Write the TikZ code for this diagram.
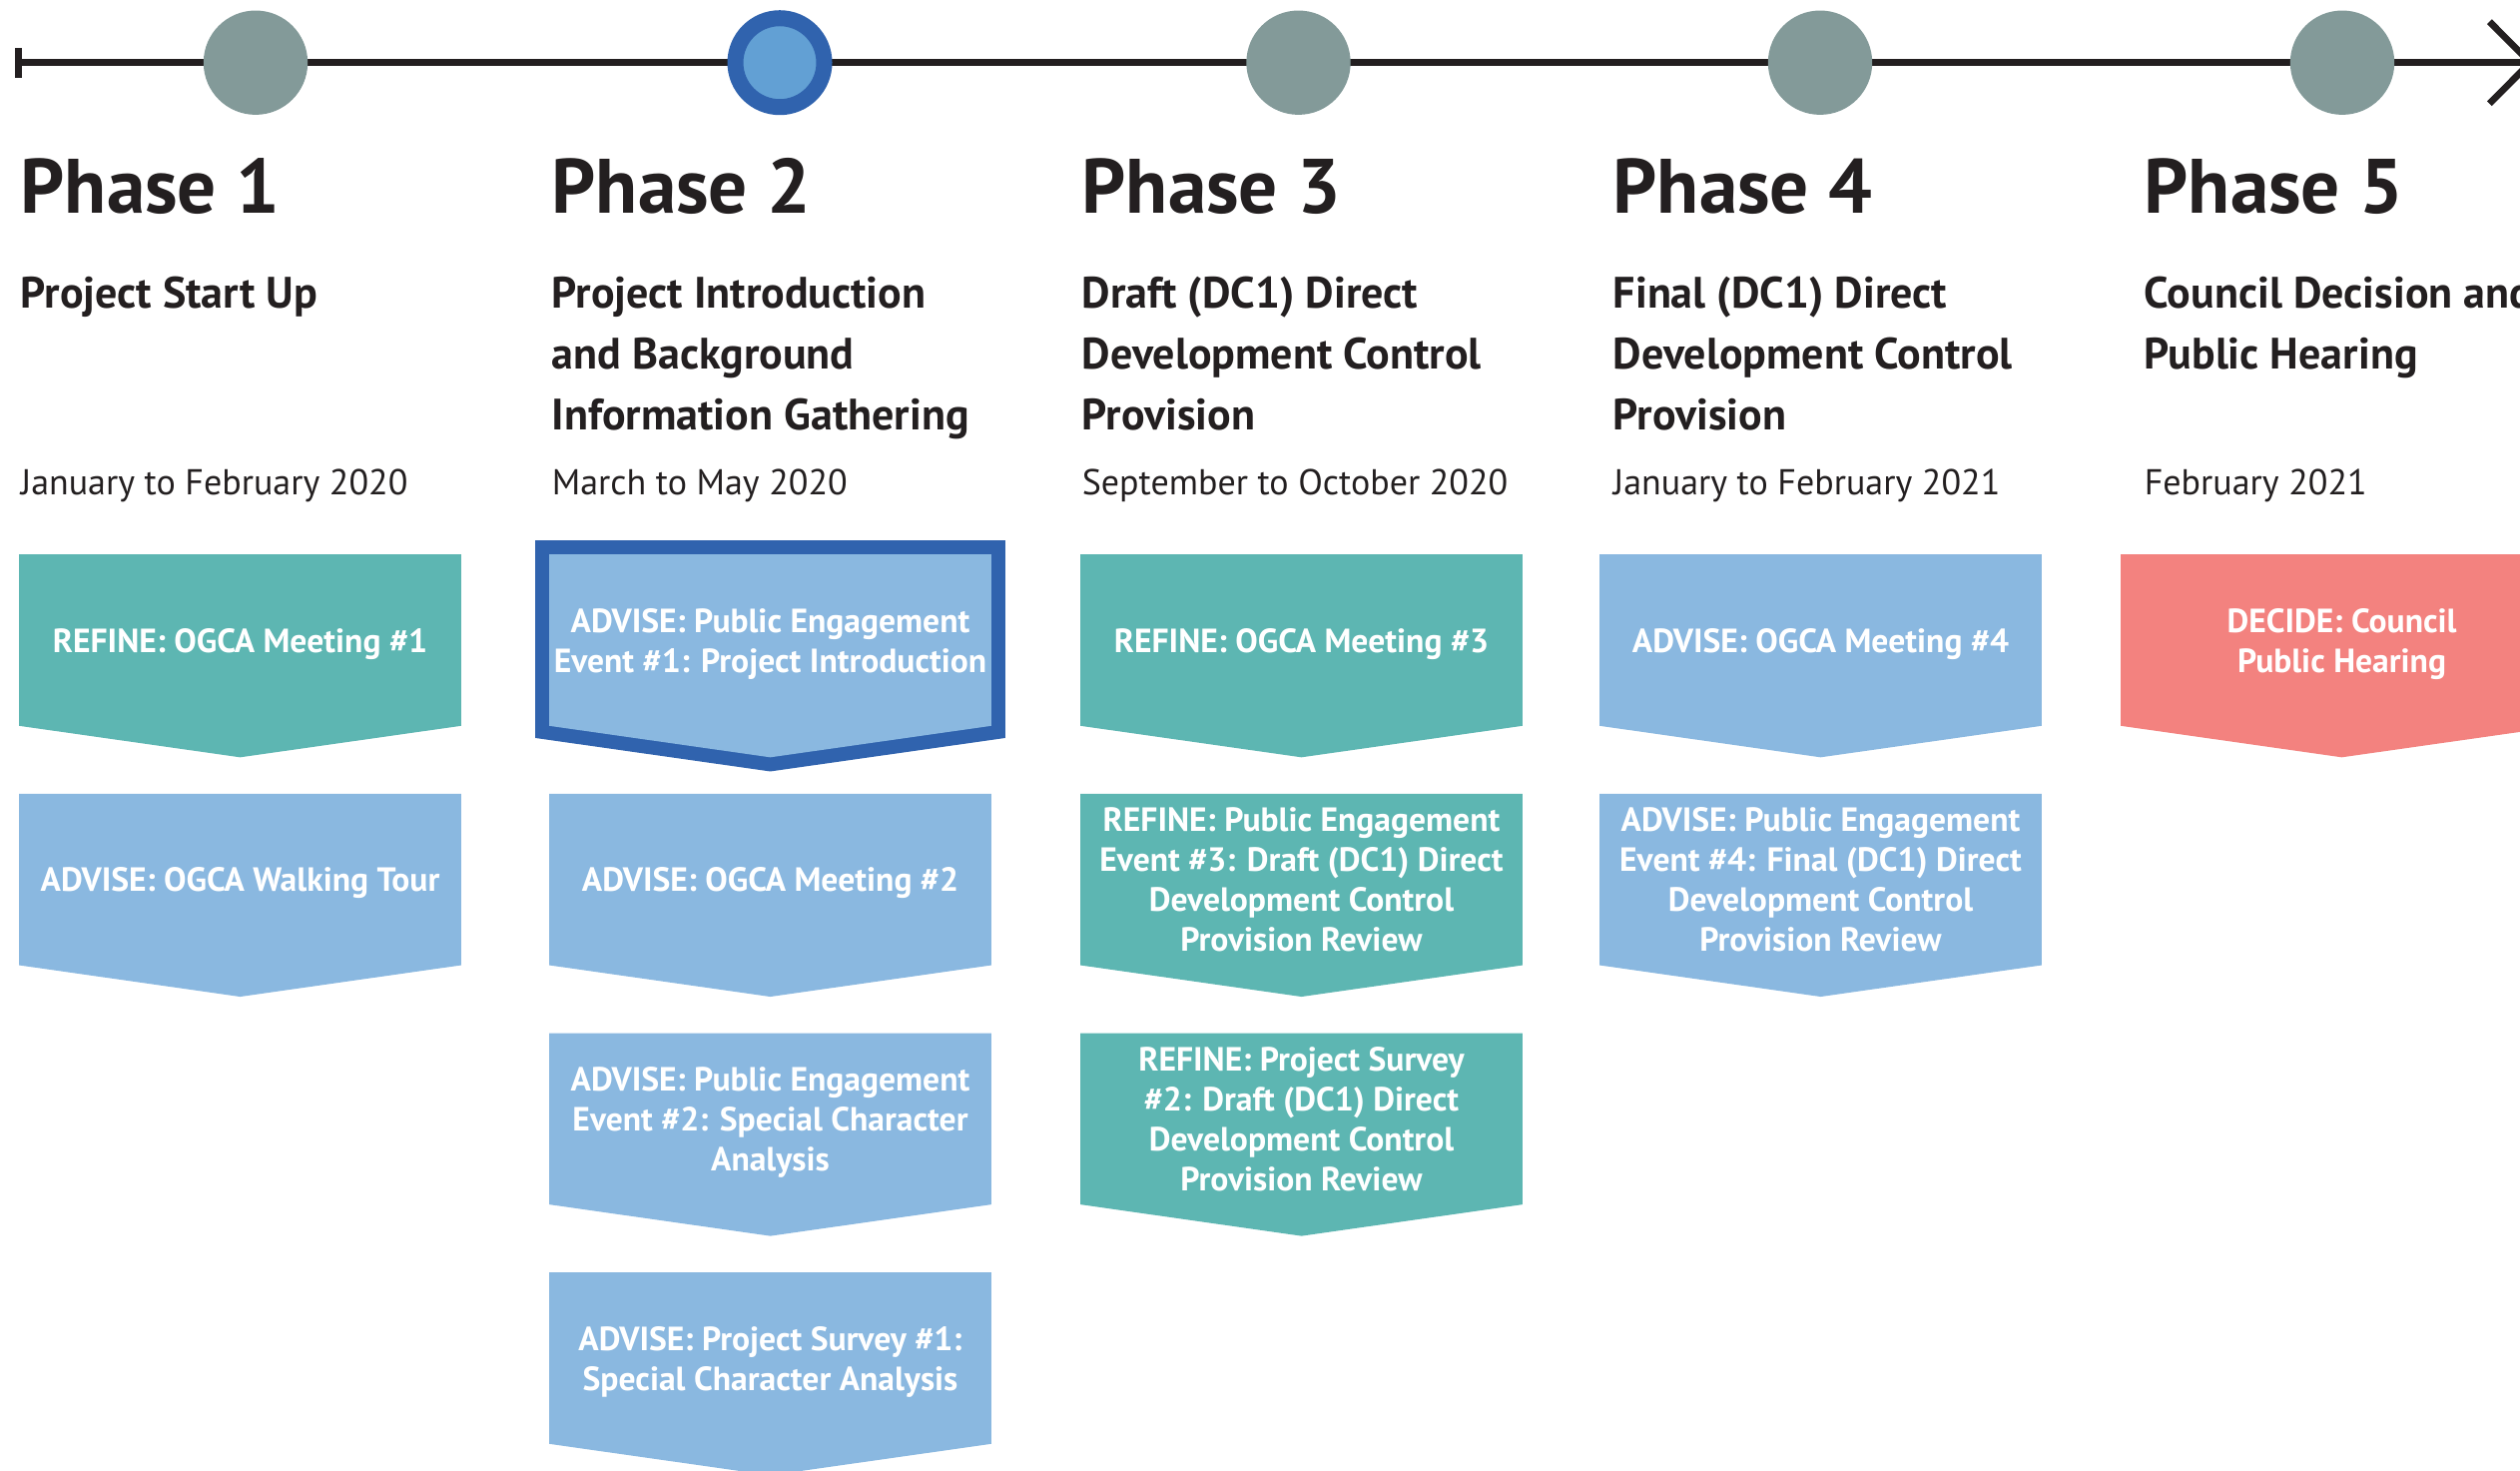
\documentclass[tikz,border=0pt]{standalone}
\usepackage{fontspec}
\setmainfont{PT Sans}
\definecolor{refine}{RGB}{93,182,178}
\definecolor{advise}{RGB}{138,184,224}
\definecolor{decide}{RGB}{243,130,127}
\definecolor{milestone}{RGB}{131,154,153}
\definecolor{current}{RGB}{98,160,212}
\definecolor{currentring}{RGB}{48,99,174}
\definecolor{ink}{RGB}{35,31,32}
\usetikzlibrary{arrows.meta,calc,backgrounds}

\begin{document}
\begin{tikzpicture}[x=0.25pt,y=0.25pt,yscale=-1,xscale=1,
	phase/.style={anchor=base west,inner sep=0pt,text=ink,font=\fontsize{19.3}{23}\selectfont\bfseries},
	stagename/.style={anchor=base west,inner sep=0pt,text=ink,align=left,font=\fontsize{11}{15.25}\selectfont\bfseries},
	period/.style={anchor=base west,inner sep=0pt,text=ink,font=\fontsize{9}{10}\selectfont},
	milestone/.style={circle,fill=milestone,minimum size=26.1pt,inner sep=0pt},
	stagebox/.style={rectangle,minimum width=110.25pt,minimum height=42.5pt,inner sep=0pt,text depth=0pt,text=white,align=center,font=\fontsize{8.4}{10}\selectfont\bfseries},
	timeline/.style={draw=ink,line width=1.7pt,arrows={Bar[width=7.5pt]-Straight Barb[length=10.2pt,width=20.5pt]}}
	]
	\useasboundingbox (0,0) rectangle (2524,1472);
	
	%Shape: Circle
	\node[milestone] (p1) at (256,62.7) {};
	%Shape: Circle
	\node[milestone,fill=current,draw=currentring,line width=4pt,minimum size=22.25pt] (p2) at (781,62.7) {};
	%Shape: Circle
	\node[milestone] (p3) at (1300.5,62.7) {};
	%Shape: Circle
	\node[milestone] (p4) at (1823,62.7) {};
	%Shape: Circle
	\node[milestone] (p5) at (2346,62.7) {};
	
	\coordinate (tl-start) at (15,62.7);
	\coordinate (tl-end) at (2539,62.7);
	
	% Text Node
	\node[phase] (ph1) at (20,213) {Phase 1};
	% Text Node
	\node[stagename] (sn1) at (20,308) {Project Start Up};
	% Text Node
	\node[period] (pd1) at (20,495) {January to February 2020};
	% Text Node
	\node[phase] (ph2) at (552,213) {Phase 2};
	% Text Node
	\node[stagename] (sn2) at (552,430) {Project Introduction\\and Background\\Information Gathering};
	% Text Node
	\node[period] (pd2) at (552,495) {March to May 2020};
	% Text Node
	\node[phase] (ph3) at (1083,213) {Phase 3};
	% Text Node
	\node[stagename] (sn3) at (1083,430) {Draft (DC1) Direct\\Development Control\\Provision};
	% Text Node
	\node[period] (pd3) at (1083,495) {September to October 2020};
	% Text Node
	\node[phase] (ph4) at (1615,213) {Phase 4};
	% Text Node
	\node[stagename] (sn4) at (1615,430) {Final (DC1) Direct\\Development Control\\Provision};
	% Text Node
	\node[period] (pd4) at (1615,495) {January to February 2021};
	% Text Node
	\node[phase] (ph5) at (2147,213) {Phase 5};
	% Text Node
	\node[stagename] (sn5) at (2147,369) {Council Decision and\\Public Hearing};
	% Text Node
	\node[period] (pd5) at (2147,495) {February 2021};
	
	% Text Node
	\node[stagebox] (r11) at (240.5,641) {REFINE: OGCA Meeting \#1};
	% Text Node
	\node[stagebox] (a12) at (240.5,880.7) {ADVISE: OGCA Walking Tour};
	% Text Node
	\node[stagebox] (a21) at (771.5,641) {ADVISE: Public Engagement\\Event \#1: Project Introduction};
	% Text Node
	\node[stagebox] (a22) at (771.5,880.7) {ADVISE: OGCA Meeting \#2};
	% Text Node
	\node[stagebox] (a23) at (771.5,1120.3) {ADVISE: Public Engagement\\Event \#2: Special Character\\Analysis};
	% Text Node
	\node[stagebox] (a24) at (771.5,1360) {ADVISE: Project Survey \#1:\\Special Character Analysis};
	% Text Node
	\node[stagebox] (r31) at (1303.5,641) {REFINE: OGCA Meeting \#3};
	% Text Node
	\node[stagebox] (r32) at (1303.5,880.7) {REFINE: Public Engagement\\Event \#3: Draft (DC1) Direct\\Development Control\\Provision Review};
	% Text Node
	\node[stagebox] (r33) at (1303.5,1120.3) {REFINE: Project Survey\\\#2: Draft (DC1) Direct\\Development Control\\Provision Review};
	% Text Node
	\node[stagebox] (a41) at (1823.5,641) {ADVISE: OGCA Meeting \#4};
	% Text Node
	\node[stagebox] (a42) at (1823.5,880.7) {ADVISE: Public Engagement\\Event \#4: Final (DC1) Direct\\Development Control\\Provision Review};
	% Text Node
	\node[stagebox] (d51) at (2345.5,641) {DECIDE: Council\\Public Hearing};
	
	\begin{scope}[on background layer]
	%Straight Lines: timeline
	\draw[timeline] (tl-start) -- (tl-end);
	%Shape: Chevron border of the current stage
	\draw[draw=currentring,line width=7pt] (a21.north west) -- (a21.north east) -- (a21.south east) -- ($(a21.south)+(0,31.5)$) -- (a21.south west) -- cycle;
	%Shape: Chevrons
	\foreach \b/\c in {r11/refine,a12/advise,a21/advise,a22/advise,a23/advise,a24/advise,r31/refine,r32/refine,r33/refine,a41/advise,a42/advise,d51/decide}
		\fill[fill=\c] (\b.north west) -- (\b.north east) -- (\b.south east) -- ($(\b.south)+(0,31.5)$) -- (\b.south west) -- cycle;
	\end{scope}
\end{tikzpicture}
\end{document}
